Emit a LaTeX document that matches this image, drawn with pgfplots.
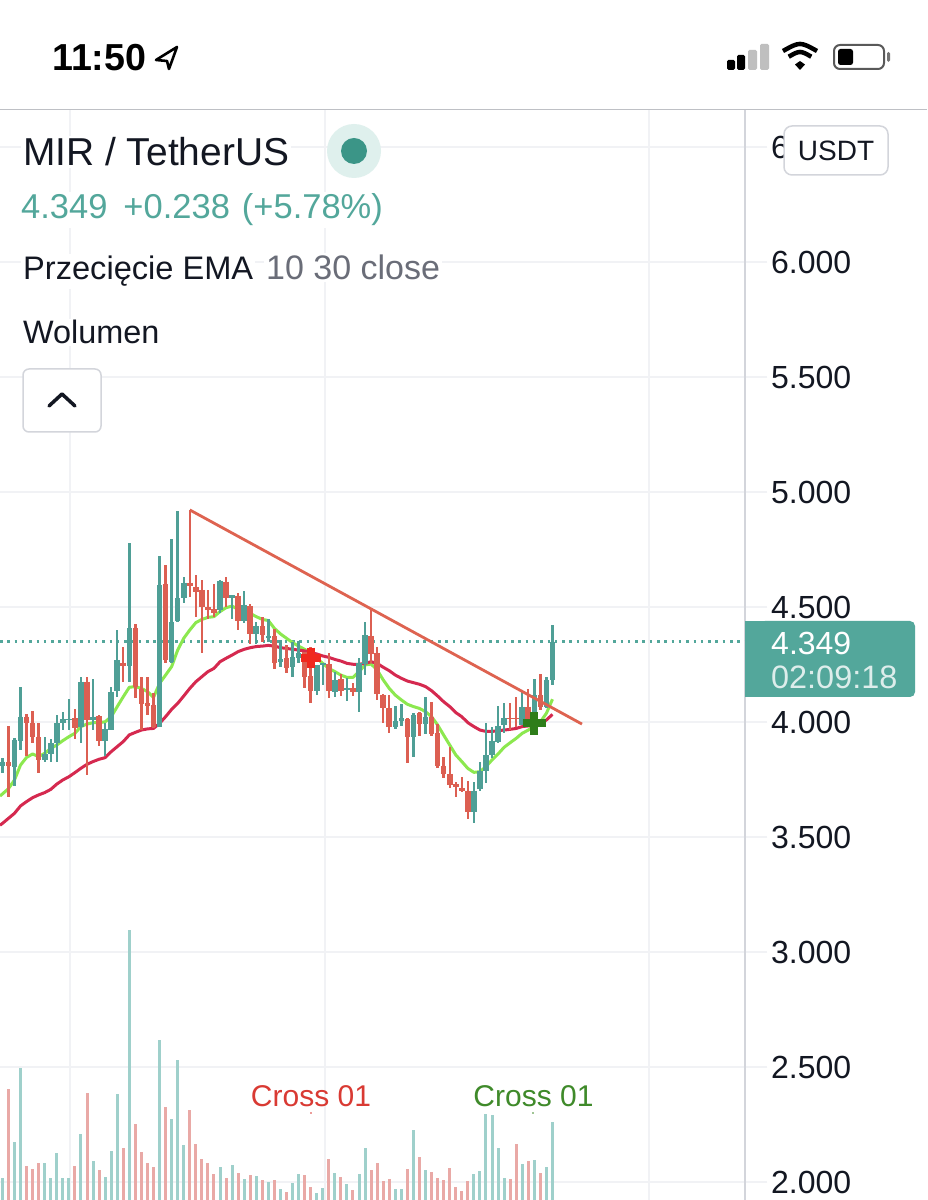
\documentclass[border=0pt]{standalone}
\usepackage{fontspec}
\setmainfont{Liberation Sans}
\usepackage{pgfplots}
\usepackage{pgfplotstable}
\pgfplotsset{compat=1.18}
\definecolor{upc}{HTML}{4F9F96}
\definecolor{dnc}{HTML}{DC5F52}
\definecolor{upv}{HTML}{9FD0CB}
\definecolor{dnv}{HTML}{E9A9A6}
\definecolor{ema1}{HTML}{8CE84F}
\definecolor{ema2}{HTML}{D5294F}
\definecolor{trend}{HTML}{DE6350}
\definecolor{gridc}{HTML}{F1F2F5}
\definecolor{linec}{HTML}{D3D5DB}
\definecolor{ink}{HTML}{131722}
\definecolor{pricec}{HTML}{53A79B}
\definecolor{halo}{HTML}{DFF0ED}
\definecolor{dotc}{HTML}{3B9587}
\definecolor{greyt}{HTML}{6A6D78}
\definecolor{crossred}{HTML}{D93A33}
\definecolor{crossgreen}{HTML}{3F8A2A}
\definecolor{markred}{HTML}{F0281E}
\definecolor{markgreen}{HTML}{2E7D1A}
\pgfplotstableread{
i o h l c
0 3.809 3.842 3.777 3.828
2 3.803 3.929 3.722 3.922
3 3.919 4.154 3.878 4.023
7 3.835 3.933 3.828 3.861
8 3.861 3.926 3.825 3.907
9 3.907 4.030 3.825 3.994
10 3.994 4.045 3.965 4.012
11 4.009 4.099 3.965 4.014
13 3.980 4.197 3.907 4.175
15 4.009 4.187 3.965 4.023
17 3.917 3.997 3.852 3.968
18 3.965 4.154 3.965 4.132
19 4.136 4.400 4.110 4.270
21 4.245 4.780 4.175 4.409
26 3.980 4.722 3.977 4.596
28 4.262 4.797 4.258 4.436
29 4.441 4.919 4.436 4.538
30 4.538 4.632 4.516 4.606
36 4.487 4.617 4.472 4.614
38 4.538 4.552 4.446 4.552
40 4.441 4.571 4.429 4.509
42 4.383 4.436 4.339 4.417
44 4.366 4.446 4.349 4.374
46 4.262 4.357 4.241 4.272
48 4.238 4.346 4.194 4.281
49 4.277 4.352 4.255 4.301
52 4.136 4.248 4.117 4.248
53 4.247 4.255 4.161 4.255
55 4.132 4.219 4.110 4.183
57 4.139 4.190 4.093 4.146
59 4.132 4.280 4.045 4.255
60 4.252 4.433 4.204 4.378
65 3.977 4.070 3.968 4.006
66 4.006 4.078 3.983 4.016
68 3.933 4.041 3.846 4.030
70 3.991 4.110 3.948 4.023
78 3.607 3.741 3.562 3.701
79 3.707 3.828 3.701 3.788
80 3.788 3.997 3.733 3.855
81 3.856 3.980 3.842 3.919
82 3.915 4.070 3.907 3.984
83 3.987 4.081 3.951 4.016
86 3.987 4.136 3.987 4.067
88 4.045 4.186 4.045 4.117
90 4.064 4.197 4.059 4.183
91 4.183 4.422 4.161 4.349
}\upcandles
\pgfplotstableread{
i o h l c
1 3.825 3.983 3.672 3.810
4 4.023 4.035 3.852 3.997
5 3.994 4.049 3.907 3.936
6 3.933 3.994 3.777 3.835
12 4.016 4.055 3.925 3.975
14 4.175 4.197 3.770 4.009
16 4.026 4.030 3.896 3.917
20 4.258 4.325 4.175 4.245
22 4.409 4.426 4.103 4.151
23 4.144 4.197 3.965 4.077
24 4.081 4.197 4.030 4.070
25 4.074 4.125 3.972 3.980
27 4.600 4.683 4.255 4.270
31 4.606 4.922 4.545 4.591
32 4.585 4.639 4.458 4.567
33 4.574 4.617 4.299 4.499
34 4.499 4.574 4.446 4.487
35 4.490 4.600 4.455 4.475
37 4.610 4.632 4.501 4.538
39 4.548 4.559 4.400 4.441
41 4.504 4.513 4.339 4.383
43 4.417 4.458 4.349 4.378
45 4.374 4.403 4.229 4.258
47 4.277 4.335 4.214 4.233
50 4.306 4.306 4.146 4.194
51 4.200 4.325 4.084 4.136
54 4.252 4.299 4.103 4.136
56 4.187 4.209 4.113 4.135
58 4.146 4.168 4.113 4.132
61 4.374 4.487 4.255 4.296
62 4.299 4.325 4.096 4.122
63 4.117 4.120 3.997 4.059
64 4.059 4.117 3.954 3.980
67 4.013 4.016 3.820 3.933
69 4.038 4.045 3.939 3.991
71 4.023 4.088 3.939 3.948
72 3.951 3.991 3.798 3.810
73 3.809 3.846 3.755 3.774
74 3.774 3.890 3.712 3.726
75 3.730 3.741 3.675 3.716
76 3.712 3.762 3.697 3.701
77 3.701 3.743 3.577 3.607
84 4.016 4.081 3.965 4.012
85 4.016 4.110 3.980 4.012
87 4.067 4.142 4.009 4.010
89 4.117 4.209 4.052 4.064
}\dncandles
\pgfplotstableread{
i a b
-0.4 3.678 3.551
0 3.687 3.559
1 3.710 3.581
2 3.748 3.603
3 3.813 3.635
4 3.846 3.654
5 3.861 3.671
6 3.849 3.683
7 3.864 3.693
8 3.885 3.707
9 3.900 3.730
10 3.919 3.748
11 3.936 3.762
12 3.951 3.780
13 3.980 3.799
14 3.991 3.816
15 3.997 3.828
16 3.997 3.838
17 4.001 3.845
18 4.023 3.871
19 4.067 3.893
20 4.110 3.915
21 4.151 3.944
22 4.154 3.955
23 4.146 3.965
24 4.132 3.970
25 4.107 3.972
26 4.168 3.994
27 4.204 4.023
28 4.241 4.055
29 4.313 4.081
30 4.364 4.113
31 4.400 4.146
32 4.432 4.175
33 4.446 4.197
34 4.455 4.219
35 4.458 4.233
36 4.480 4.262
37 4.497 4.277
38 4.504 4.291
39 4.490 4.306
40 4.487 4.316
41 4.472 4.323
42 4.458 4.328
43 4.446 4.330
44 4.441 4.333
45 4.407 4.330
46 4.383 4.323
47 4.364 4.320
48 4.345 4.316
49 4.330 4.313
50 4.316 4.309
51 4.299 4.301
52 4.277 4.296
53 4.255 4.287
54 4.233 4.281
55 4.219 4.272
56 4.204 4.265
57 4.194 4.255
58 4.194 4.251
59 4.219 4.251
60 4.248 4.255
61 4.252 4.262
62 4.226 4.255
63 4.183 4.238
64 4.146 4.223
65 4.117 4.204
66 4.096 4.190
67 4.077 4.178
68 4.067 4.171
69 4.059 4.164
70 4.045 4.154
71 4.023 4.136
72 3.987 4.113
73 3.943 4.088
74 3.900 4.067
75 3.857 4.041
76 3.828 4.023
77 3.798 3.997
78 3.781 3.980
79 3.784 3.965
80 3.806 3.959
81 3.835 3.959
82 3.861 3.962
83 3.890 3.965
84 3.910 3.968
85 3.929 3.972
86 3.951 3.980
87 3.965 3.983
88 3.983 3.987
89 4.001 3.990
90 4.038 4.009
91 4.099 4.033
}\emas
\pgfplotstableread{
i v
0 22.3
2 58.3
3 131.7
7 36.7
8 22.3
9 46.7
10 21.7
11 21.7
13 66
15 39.3
17 23.3
18 49.3
19 106.3
21 270
26 160.3
28 81.3
29 139.7
30 54.7
36 32.7
38 35
40 21.3
42 24.3
44 18
46 11.3
48 17.3
49 26
52 6.7
53 11.7
55 26.7
57 16
59 26
60 51.7
65 11.3
66 10.7
68 69.7
70 29.7
78 26
79 28.7
80 86.3
81 84.7
82 51.7
83 22
86 36
88 40
90 32.7
91 78
}\upvol
\pgfplotstableread{
i v
1 111
4 34.3
5 30.7
6 36.7
12 34.3
14 107
16 30
20 51.7
22 76.3
23 47.7
24 36.7
25 32.7
27 92.7
31 89.7
32 56
33 41
34 36.7
35 26.3
37 22.3
39 27
41 24.7
43 19.7
45 19.7
47 8
50 25.3
51 13.3
54 41
56 22.7
58 10
61 30
62 36.7
63 19
64 21.3
67 31.3
69 43.3
71 27.7
72 22
73 19.7
74 32
75 13
76 9
77 19
84 21.3
85 56
87 39.3
89 27
}\dnvol
\pgfplotsset{
  wicks/.style={draw=none,mark=none,forget plot,
    error bars/.cd,y dir=both,y explicit,error mark=none,
    error bar style={draw=#1,line width=2.4pt}},
  bodies/.style={draw=none,mark=none,forget plot,
    error bars/.cd,y dir=minus,y explicit,error mark=none,
    error bar style={draw=#1,line width=5.6pt}},
}
\newcommand\fs[1]{\fontsize{#1}{#1}\selectfont}
\begin{document}
\begin{tikzpicture}
\useasboundingbox (0pt,0pt) rectangle (927pt,1200pt);
\fill[white] (0pt,0pt) rectangle (927pt,1200pt);
\begin{axis}[
  at={(0pt,0pt)},anchor=south west,scale only axis,
  width=745pt,height=1090pt,
  xmin=-0.397,xmax=122.85,ymin=1.9217,ymax=6.6609,
  axis x line=bottom,axis y line=right,
  axis line style={-},
  x axis line style={draw=none},
  y axis line style={draw=linec,line width=1.5pt},
  xtick={11.18,53.37,106.96},xticklabel=\empty,
  ytick={2,2.5,3,3.5,4,4.5,5,5.5,6,6.5},
  major x tick style={draw=none},
  major y tick style={draw=gridc,line width=2pt},
  major tick length=22pt,
  tick align=outside,
  xmajorgrids,ymajorgrids,
  major grid style={draw=gridc,line width=2pt},
  yticklabel style={anchor=west,inner sep=0pt,xshift=4pt,text=ink,font=\fs{32},
    /pgf/number format/fixed,/pgf/number format/fixed zerofill,
    /pgf/number format/precision=3,/pgf/number format/assume math mode=true},
]
\addplot[pricec,line width=2.5pt,dash pattern=on 2.5pt off 4.8pt,forget plot] coordinates {(-0.397,4.349)(122.85,4.349)};
\addplot[ema1,line width=3pt,line join=round] table[x=i,y=a] {\emas};
\addplot[ema2,line width=3pt,line join=round] table[x=i,y=b] {\emas};
\addplot[wicks=upc] table[x=i,y=c,y error plus expr=\thisrow{h}-\thisrow{c},y error minus expr=\thisrow{c}-\thisrow{l}] {\upcandles};
\addplot[wicks=dnc] table[x=i,y=o,y error plus expr=\thisrow{h}-\thisrow{o},y error minus expr=\thisrow{o}-\thisrow{l}] {\dncandles};
\addplot[bodies=upc] table[x=i,y=c,y error minus expr=\thisrow{c}-\thisrow{o}] {\upcandles};
\addplot[bodies=dnc] table[x=i,y=o,y error minus expr=\thisrow{o}-\thisrow{c}] {\dncandles};
\addplot[trend,line width=2.8pt] coordinates {(31,4.922)(95.88,3.991)};
\addplot[only marks,mark=+,mark size=10pt,mark options={draw=markred,line width=8pt}] coordinates {(51,4.280)};
\addplot[only marks,mark=+,mark size=11.5pt,mark options={draw=markgreen,line width=8pt}] coordinates {(88,3.994)};
\end{axis}
\begin{axis}[
  at={(0pt,0pt)},anchor=south west,scale only axis,
  width=745pt,height=1090pt,
  xmin=-0.397,xmax=122.85,ymin=0,ymax=1090,
  hide axis,
]
\addplot[ycomb,draw=upv,line width=3pt,mark=none] table[x=i,y=v] {\upvol};
\addplot[ycomb,draw=dnv,line width=3pt,mark=none] table[x=i,y=v] {\dnvol};
\end{axis}
\begin{scope}[x=1pt,y=-1pt,shift={(0pt,1200pt)}]
% status bar
\node[anchor=base west,inner sep=0pt,font=\fs{37.6}\bfseries,text=black] at (52,71) {11:50};
\draw[black,line width=2.6pt,line join=round] (177,47)--(156,60)--(167,61)--(169,69)--cycle;
\fill[black,rounded corners=1.5pt] (727,60) rectangle (735,70);
\fill[black,rounded corners=1.5pt] (737,55) rectangle (745,70);
\fill[black!25,rounded corners=1.5pt] (748,50) rectangle (757,70);
\fill[black!25,rounded corners=1.5pt] (760,44) rectangle (769,70);
\draw[black,line width=4.5pt] (783,51) .. controls (800,41.6) .. (817,51);
\draw[black,line width=4.5pt] (788.7,56.7) .. controls (800,50.4) .. (811.3,56.7);
\fill[black] (800,70)--(795,64.5)--(800,61)--(805,64.5)--cycle;
\draw[black!65,line width=2pt,rounded corners=6pt] (834,45) rectangle (884,69);
\fill[black,rounded corners=2.5pt] (838,49) rectangle (853,65);
\fill[black!55,rounded corners=1.5pt] (887,52) rectangle (890,62);
\draw[linec!90!black,line width=1.5pt] (0,109.5)--(927,109.5);
% header
\node[anchor=base west,inner sep=2pt,fill=white,font=\fs{38.9},text=ink] at (21,166) {MIR / TetherUS};
\fill[halo] (354,151) circle[radius=27pt];
\fill[dotc] (354,151) circle[radius=13pt];
\node[anchor=base west,inner sep=2pt,fill=white,font=\fs{34.5},text=pricec] at (19,219) {4.349\hspace{16pt}+0.238\hspace{12pt}(+5.78\%)};
\node[anchor=base west,inner sep=2pt,fill=white,font=\fs{32.6},text=ink] at (21,280) {Przecięcie EMA};
\node[anchor=base west,inner sep=2pt,fill=white,font=\fs{34},text=greyt] at (264,280) {10 30 close};
\node[anchor=base west,inner sep=2pt,fill=white,font=\fs{32.4},text=ink] at (21,344) {Wolumen};
\draw[linec,fill=white,line width=1.5pt,rounded corners=6pt] (23,369) rectangle (101,432);
\draw[ink,line width=3.5pt,line cap=round,line join=round] (49,406)--(62,394)--(75,406);
\draw[linec,fill=white,line width=1.5pt,rounded corners=8pt] (784,126) rectangle (888,175);
\node[anchor=center,inner sep=0pt,font=\fs{28},text=ink] at (836,151) {USDT};
% last price
\fill[pricec,rounded corners=5pt] (760,621) rectangle (915,697);
\fill[pricec] (745,621) rectangle (770,697);
\node[anchor=west,inner sep=0pt,font=\fs{32},text=white] at (771,643) {4.349};
\node[anchor=west,inner sep=0pt,font=\fs{32.4},text=white!80!pricec] at (771,677) {02:09:18};
% signal labels
\node[anchor=base,inner sep=0pt,font=\fs{30},text=crossred] at (311,1107) {Cross 01};
\node[anchor=base,inner sep=0pt,font=\fs{30},text=crossgreen] at (533.5,1107) {Cross 01};
\fill[crossred] (311,1113) circle[radius=0.8pt];
\fill[crossgreen] (533,1113) circle[radius=0.8pt];
\end{scope}
\end{tikzpicture}
\end{document}
